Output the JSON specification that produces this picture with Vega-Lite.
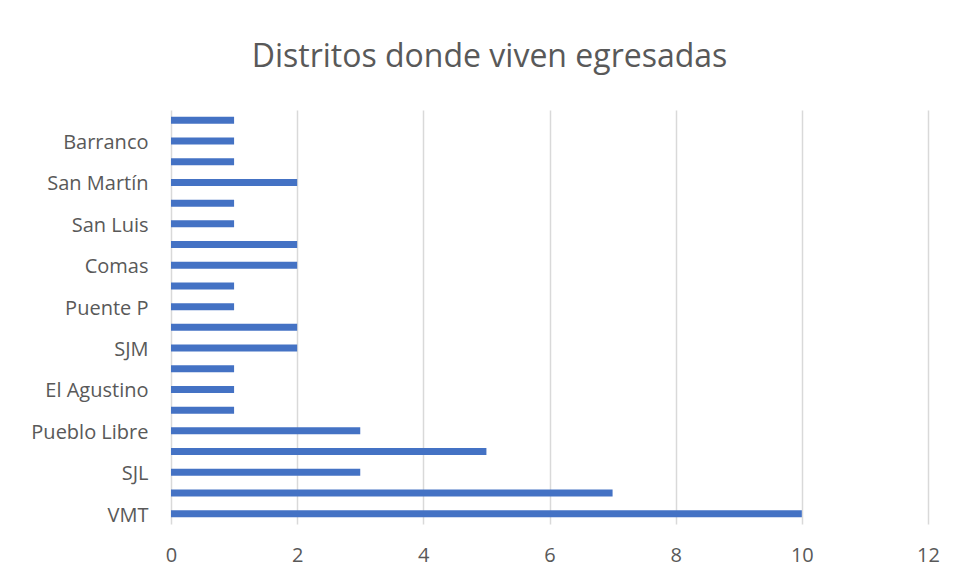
{
  "$schema": "https://vega.github.io/schema/vega-lite/v6.json",
  "width": 757,
  "height": 414,
  "autosize": {"type": "none"},
  "padding": {"left": 171, "top": 110, "right": 26, "bottom": 54},
  "background": "white",
  "title": {
    "text": "Distritos donde viven egresadas",
    "font": "Open Sans",
    "fontSize": 32,
    "fontWeight": "normal",
    "color": "#595959",
    "anchor": "middle",
    "dx": -60,
    "offset": 36
  },
  "data": {
    "values": [
      {"orden": 1, "distrito": "Otro 1", "egresadas": 1},
      {"orden": 2, "distrito": "Barranco", "egresadas": 1},
      {"orden": 3, "distrito": "Otro 2", "egresadas": 1},
      {"orden": 4, "distrito": "San Martín", "egresadas": 2},
      {"orden": 5, "distrito": "Otro 3", "egresadas": 1},
      {"orden": 6, "distrito": "San Luis", "egresadas": 1},
      {"orden": 7, "distrito": "Otro 4", "egresadas": 2},
      {"orden": 8, "distrito": "Comas", "egresadas": 2},
      {"orden": 9, "distrito": "Otro 5", "egresadas": 1},
      {"orden": 10, "distrito": "Puente P", "egresadas": 1},
      {"orden": 11, "distrito": "Otro 6", "egresadas": 2},
      {"orden": 12, "distrito": "SJM", "egresadas": 2},
      {"orden": 13, "distrito": "Otro 7", "egresadas": 1},
      {"orden": 14, "distrito": "El Agustino", "egresadas": 1},
      {"orden": 15, "distrito": "Otro 8", "egresadas": 1},
      {"orden": 16, "distrito": "Pueblo Libre", "egresadas": 3},
      {"orden": 17, "distrito": "Otro 9", "egresadas": 5},
      {"orden": 18, "distrito": "SJL", "egresadas": 3},
      {"orden": 19, "distrito": "Otro 10", "egresadas": 7},
      {"orden": 20, "distrito": "VMT", "egresadas": 10}
    ]
  },
  "mark": {"type": "bar", "color": "#4472C4"},
  "encoding": {
    "y": {
      "field": "distrito",
      "type": "nominal",
      "sort": {"field": "orden", "order": "ascending"},
      "scale": {"paddingInner": 0.66, "paddingOuter": 0.33},
      "axis": {
        "title": null,
        "values": ["Barranco", "San Martín", "San Luis", "Comas", "Puente P", "SJM", "El Agustino", "Pueblo Libre", "SJL", "VMT"],
        "domain": false,
        "ticks": false,
        "labelFont": "Open Sans",
        "labelFontSize": 20,
        "labelColor": "#595959",
        "labelPadding": 23,
        "labelOffset": 2
      }
    },
    "x": {
      "field": "egresadas",
      "type": "quantitative",
      "scale": {"domain": [0, 12], "nice": false},
      "axis": {
        "title": null,
        "values": [0, 2, 4, 6, 8, 10, 12],
        "domain": false,
        "ticks": false,
        "grid": true,
        "gridColor": "#D9D9D9",
        "gridWidth": 1.5,
        "labelFlush": false,
        "labelFont": "Open Sans",
        "labelFontSize": 20,
        "labelColor": "#595959",
        "labelPadding": 21
      }
    }
  },
  "config": {"view": {"stroke": null}}
}
